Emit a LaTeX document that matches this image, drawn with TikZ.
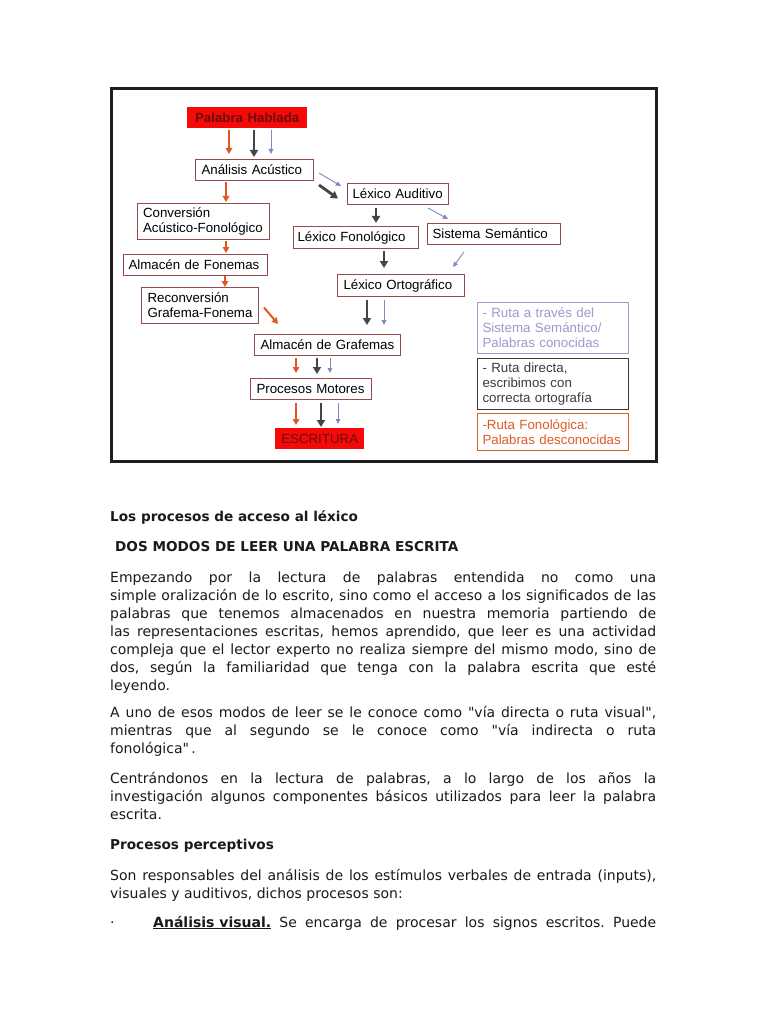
\documentclass[tikz,border=0pt]{standalone}
\usepackage{fontspec}
\setmainfont{DejaVu Sans}
\newfontfamily\arialf{Liberation Sans}
\usetikzlibrary{arrows.meta,calc}
\definecolor{orangec}{HTML}{E2571F}
\definecolor{darkc}{HTML}{454545}
\definecolor{bluec}{HTML}{8585C5}
\definecolor{boxc}{HTML}{9A4A4A}
\definecolor{redf}{HTML}{F50A0A}
\definecolor{redt}{HTML}{6E0A0A}
\definecolor{leg1c}{HTML}{9A9AD0}
\definecolor{leg2c}{HTML}{3C3C3C}
\definecolor{leg3c}{HTML}{E05A28}
\definecolor{framec}{HTML}{1E1E1E}
\definecolor{textc}{HTML}{1A1A1A}
\newcommand{\dq}{\XeTeXglyph\XeTeXcharglyph"22\relax}
\frenchspacing
\begin{document}
\begin{tikzpicture}[x=1pt,y=-1pt,
  box/.style={draw=boxc, line width=1pt, inner xsep=6pt, inner ysep=0pt, align=left,
    anchor=north west, font=\arialf\fontsize{13.3}{15}\selectfont, text=black},
  redbox/.style={fill=redf, draw=none, inner xsep=0pt, inner ysep=0pt, align=center,
    anchor=north west, text=redt},
  legbox/.style={line width=1pt, inner xsep=5pt, inner ysep=0pt, align=left,
    anchor=north west, text width=141pt, font=\arialf\fontsize{13.3}{15}\selectfont},
  oarr/.style={draw=orangec, line width=2pt, -{Triangle[length=6pt,width=6.5pt]}},
  darr/.style={draw=darkc, line width=2.8pt, -{Triangle[length=7pt,width=8pt]}},
  barr/.style={draw=bluec, line width=0.9pt, -{Triangle[length=5pt,width=4.5pt]}},
  body/.style={anchor=base west, inner sep=0pt, text=textc, font=\frenchspacing\fontsize{14}{17}\selectfont},
  bodyb/.style={anchor=base west, inner sep=0pt, text=textc, font=\bfseries\fontsize{13.6}{17}\selectfont}
]
\useasboundingbox[fill=white] (0,0) rectangle (768,1024);

% frame
\draw[framec, line width=3pt] (111.5,88.5) rectangle (656.5,461.5);

% boxes
\node[redbox, text width=120pt, minimum height=21pt, font=\arialf\bfseries\fontsize{13.3}{15}\selectfont] (hab) at (187,107) {Palabra Hablada};
\node[box, text width=106pt, minimum height=21pt] (aa) at (195,159) {\mbox{Análisis Acústico}};
\node[box, text width=121pt, minimum height=36pt, inner xsep=5.5pt] (conv) at (137,203) {Conversión\\Acústico-Fonológico};
\node[box, text width=134pt, minimum height=21pt, inner xsep=5pt] (alf) at (123,254) {\mbox{Almacén de Fonemas}};
\node[box, text width=105pt, minimum height=36pt] (recon) at (141,287) {Reconversión\\Grafema-Fonema};
\node[box, text width=91pt, minimum height=21pt, inner xsep=5pt] (lau) at (347,183) {\mbox{Léxico Auditivo}};
\node[box, text width=117pt, minimum height=22pt, inner xsep=4pt] (lfo) at (293,226) {\mbox{Léxico Fonológico}};
\node[box, text width=123pt, minimum height=21pt, inner xsep=5pt] (sem) at (427,223) {\mbox{Sistema Semántico}};
\node[box, text width=115pt, minimum height=22pt] (lor) at (337,274) {\mbox{Léxico Ortográfico}};
\node[box, text width=134pt, minimum height=21pt] (alg) at (254,334) {\mbox{Almacén de Grafemas}};
\node[box, text width=109pt, minimum height=21pt] (pm) at (250,378) {\mbox{Procesos Motores}};
\node[redbox, text width=89pt, minimum height=21pt, font=\arialf\fontsize{13.3}{15}\selectfont] (esc) at (275,428) {ESCRITURA};

% legend
\node[legbox, draw=leg1c, text=leg1c, minimum height=51pt] (leg1) at (477,302) {- Ruta a través del\\Sistema Semántico/\\Palabras conocidas};
\node[legbox, draw=leg2c, text=leg2c, minimum height=51pt] (leg2) at (477,358) {- Ruta directa,\\escribimos con\\correcta ortografía};
\node[legbox, draw=leg3c, text=leg3c, minimum height=37pt] (leg3) at (477,413) {-Ruta Fonológica:\\Palabras desconocidas};

% arrows
\draw[oarr, shorten <=2pt, shorten >=5pt] (229,0 |- hab.south) -- (229,0 |- aa.north);
\draw[darr, shorten <=2pt, shorten >=2pt] (254,0 |- hab.south) -- (254,0 |- aa.north);
\draw[barr, shorten <=2pt, shorten >=5pt] (271,0 |- hab.south) -- (271,0 |- aa.north);

\draw[oarr, shorten <=1pt, shorten >=1pt] (226,0 |- aa.south) -- (226,0 |- conv.north);
\draw[oarr, shorten <=1pt, shorten >=1pt] (226,0 |- conv.south) -- (226,0 |- alf.north);
\draw[oarr, shorten <=0pt, shorten >=0pt] (225,0 |- alf.south) -- (225,0 |- recon.north);
\draw[oarr] ($(recon.east)+(5,2)$) -- ($(alg.north west)+(24,-10)$);

\draw[barr] ($(aa.north east)+(5,14)$) -- ($(lau.north west)+(-6,3)$);
\draw[darr] ($(aa.south east)+(5,4)$) -- ($(lau.west)+(-9,4.5)$);
\draw[darr, shorten <=3pt, shorten >=3pt] (376,0 |- lau.south) -- (376,0 |- lfo.north);
\draw[barr] ($(lau.south east)+(-21,3)$) -- ($(sem.north west)+(21,-4)$);
\draw[darr, shorten <=2pt, shorten >=6pt] (384,0 |- lfo.south) -- (384,0 |- lor.north);
\draw[barr] ($(sem.south west)+(37,7)$) -- ($(lor.north east)+(-12,-7)$);

\draw[darr, shorten <=3pt, shorten >=9pt] (367,0 |- lor.south) -- (367,0 |- alg.north);
\draw[barr, shorten <=3pt, shorten >=9pt] (384,0 |- lor.south) -- (384,0 |- alg.north);

\draw[oarr, shorten <=2pt, shorten >=5pt] (296,0 |- alg.south) -- (296,0 |- pm.north);
\draw[darr, shorten <=2pt, shorten >=4pt] (317,0 |- alg.south) -- (317,0 |- pm.north);
\draw[barr, shorten <=2pt, shorten >=5pt] (330,0 |- alg.south) -- (330,0 |- pm.north);

\draw[oarr, shorten <=3pt, shorten >=3pt] (296,0 |- pm.south) -- (296,0 |- esc.north);
\draw[darr, shorten <=3pt, shorten >=1pt] (321,0 |- pm.south) -- (321,0 |- esc.north);
\draw[barr, shorten <=3pt, shorten >=4pt] (338,0 |- pm.south) -- (338,0 |- esc.north);

% text
\node[bodyb] (h1) at (110,521) {Los procesos de acceso al léxico};
\node[bodyb] (h2) at (115,551) {DOS MODOS DE LEER UNA PALABRA ESCRITA};

\node[body] (p1a) at (110,582) {\makebox[546pt][s]{Empezando por la lectura de palabras entendida no como una}};
\node[body] (p1b) at (110,600) {\makebox[546pt][s]{simple oralización de lo escrito, sino como el acceso a los significados de las}};
\node[body] (p1c) at (110,618) {\makebox[546pt][s]{palabras que tenemos almacenados en nuestra memoria partiendo de}};
\node[body] (p1d) at (110,636) {\makebox[546pt][s]{las representaciones escritas, hemos aprendido, que leer es una actividad}};
\node[body] (p1e) at (110,654) {\makebox[546pt][s]{compleja que el lector experto no realiza siempre del mismo modo, sino de}};
\node[body] (p1f) at (110,672) {\makebox[546pt][s]{dos, según la familiaridad que tenga con la palabra escrita que esté}};
\node[body] (p1g) at (110,690) {leyendo.};

\node[body] (p2a) at (110,717) {\makebox[546pt][s]{A uno de esos modos de leer se le conoce como \dq vía directa o ruta visual\dq,}};
\node[body] (p2b) at (110,735) {\makebox[546pt][s]{mientras que al segundo se le conoce como \dq vía indirecta o ruta}};
\node[body] (p2c) at (110,753) {fonológica\dq\,.};

\node[body] (p3a) at (110,783) {\makebox[546pt][s]{Centrándonos en la lectura de palabras, a lo largo de los años la}};
\node[body] (p3b) at (110,801) {\makebox[546pt][s]{investigación algunos componentes básicos utilizados para leer la palabra}};
\node[body] (p3c) at (110,819) {escrita.};

\node[bodyb] (h3) at (110,849) {Procesos perceptivos};

\node[body] (p4a) at (110,880) {\makebox[546pt][s]{Son responsables del análisis de los estímulos verbales de entrada (inputs),}};
\node[body] (p4b) at (110,898) {visuales y auditivos, dichos procesos son:};

\node[body] (dot) at (110,927) {·};
\node[body] (p5a) at (153,927) {\makebox[503pt][s]{\underline{\textbf{Análisis visual.}} Se encarga de procesar los signos escritos. Puede}};
\end{tikzpicture}
\end{document}
